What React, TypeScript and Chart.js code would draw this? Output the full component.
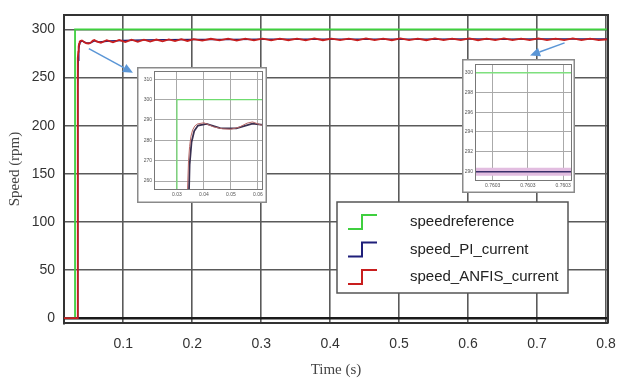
import React, { useEffect, useRef } from "react";
import { Chart, registerables } from "chart.js";
Chart.register(...registerables);

// ---------- data ----------
const timeRef = [0.014, 0.03, 0.03, 0.803];
const speedRef = [0, 0, 300, 300];

const timeAnfis = [
  0.014, 0.0334, 0.0337, 0.0339, 0.0343, 0.0347, 0.0352, 0.0358, 0.0366, 0.0376, 0.04, 0.0435, 0.047, 0.05, 0.053, 0.056, 0.058, 0.061,
  0.0675, 0.076, 0.085, 0.094, 0.103, 0.112, 0.121, 0.13, 0.139, 0.148, 0.157, 0.166, 0.175, 0.184, 0.193, 0.202,
  0.2145, 0.227, 0.2395, 0.252, 0.2645, 0.277, 0.2895, 0.302, 0.3145, 0.327, 0.3395, 0.352, 0.3645, 0.377, 0.3895, 0.402,
  0.4145, 0.427, 0.4395, 0.452, 0.4645, 0.477, 0.4895, 0.502, 0.5145, 0.527, 0.5395, 0.552, 0.5645, 0.577, 0.5895, 0.602,
  0.6145, 0.627, 0.6395, 0.652, 0.6645, 0.677, 0.6895, 0.702, 0.7145, 0.727, 0.7395, 0.752, 0.7645, 0.777, 0.7895, 0.803,
];
const speedAnfis = [
  0, 0, 150, 255, 270, 277, 282, 285, 287, 288, 288.6, 286.6, 285.6, 285.4, 286.4, 288.4, 289, 287.6,
  286.2, 288.9, 286.6, 289.1, 286.9, 289.3, 287.1, 289.4, 287.4, 289.5, 287.6, 289.7, 287.8, 289.8, 288.0, 289.9,
  288.4, 290.3, 288.6, 290.4, 288.5, 290.5, 288.7, 290.4, 288.6, 290.5, 288.8, 290.4, 288.7, 290.6, 288.8, 290.5,
  288.9, 290.5, 288.7, 290.6, 288.9, 290.4, 288.8, 290.6, 288.9, 290.5, 288.8, 290.6, 289.0, 290.5, 288.9, 290.6,
  288.8, 290.5, 289.0, 290.6, 288.9, 290.5, 289.0, 290.6, 288.9, 290.5, 289.0, 290.6, 288.9, 290.5, 289.0, 289.8,
];

const timePI = [
  0.014, 0.0336, 0.0339, 0.0342, 0.0347, 0.0354, 0.0364, 0.0378, 0.041, 0.046, 0.052, 0.058, 0.065, 0.08, 0.1,
  0.13, 0.16, 0.2, 0.25, 0.3, 0.35, 0.4, 0.45, 0.5, 0.55, 0.6, 0.65, 0.7, 0.75, 0.803,
];
const speedPI = [
  0, 0, 140, 240, 268, 279, 284.5, 287.2, 288, 286, 285.8, 288.2, 287, 288, 288.6,
  289, 289.3, 289.5, 289.6, 289.7, 289.8, 289.8, 289.9, 289.9, 289.9, 290, 289.9, 290, 289.95, 290,
];

const xTicks = [0.1, 0.2, 0.3, 0.4, 0.5, 0.6, 0.7, 0.8];
const yTicks = [0, 50, 100, 150, 200, 250, 300];
const legendLabels = ["speedreference", "speed_PI_current", "speed_ANFIS_current"];

const inset1XTicks = [0.03, 0.04, 0.05, 0.06];
const inset1YTicks = [260, 270, 280, 290, 300, 310];

const inset2Time = [0.76027, 0.760325];
const inset2Ref = [300, 300];
const inset2PI = [289.95, 289.95];
const inset2Anfis = [289.95, 289.95];
const inset2XTicks = [0.76028, 0.7603, 0.76032];
const inset2YTicks = [290, 292, 294, 296, 298, 300];

// annotation arrows (data coordinates)
const arrow1 = [0.05, 280, 0.114, 255];
const arrow2 = [0.74, 286, 0.69, 273];

// ---------- styles ----------
const refColor = "#3fcf3f";
const piColor = "#1f1f7a";
const anfisColor = "#c81e1e";
const SANS = '"Liberation Sans", Arial, sans-serif';
const SERIF = '"Liberation Serif", "Times New Roman", serif';

const zip = (xs: number[], ys: number[]) => xs.map((x, i) => ({ x, y: ys[i] }));

const mainPlugin = {
  id: "mainOverlay",
  afterDraw(chart: any) {
    const ctx = chart.ctx as CanvasRenderingContext2D;
    const { left, top, right, bottom } = chart.chartArea;
    const sx = chart.scales.x;
    const sy = chart.scales.y;
    ctx.save();
    ctx.strokeStyle = "#333";
    ctx.lineWidth = 2;
    ctx.beginPath();
    ctx.moveTo(left, top);
    ctx.lineTo(right, top);
    ctx.lineTo(right, bottom);
    ctx.stroke();

    const drawArrow = (a: number[]) => {
      const x1 = sx.getPixelForValue(a[0]);
      const y1 = sy.getPixelForValue(a[1]);
      const x2 = sx.getPixelForValue(a[2]);
      const y2 = sy.getPixelForValue(a[3]);
      const ang = Math.atan2(y2 - y1, x2 - x1);
      const L = 10;
      const W = 4.5;
      ctx.strokeStyle = "#5b96d6";
      ctx.fillStyle = "#5b96d6";
      ctx.lineWidth = 1.5;
      ctx.beginPath();
      ctx.moveTo(x1, y1);
      ctx.lineTo(x2 - L * Math.cos(ang), y2 - L * Math.sin(ang));
      ctx.stroke();
      ctx.beginPath();
      ctx.moveTo(x2, y2);
      ctx.lineTo(x2 - L * Math.cos(ang) + W * Math.sin(ang), y2 - L * Math.sin(ang) - W * Math.cos(ang));
      ctx.lineTo(x2 - L * Math.cos(ang) - W * Math.sin(ang), y2 - L * Math.sin(ang) + W * Math.cos(ang));
      ctx.closePath();
      ctx.fill();
    };
    drawArrow(arrow1);
    drawArrow(arrow2);

    const bx = 337, by = 202, bw = 231, bh = 91;
    ctx.fillStyle = "#fff";
    ctx.fillRect(bx, by, bw, bh);
    ctx.strokeStyle = "#555";
    ctx.lineWidth = 1.5;
    ctx.strokeRect(bx, by, bw, bh);
    const colors = [refColor, piColor, anfisColor];
    ctx.font = `15px ${SANS}`;
    ctx.textBaseline = "middle";
    ctx.textAlign = "left";
    legendLabels.forEach((lab, i) => {
      const cy = 222 + i * 27.5;
      ctx.strokeStyle = colors[i];
      ctx.lineWidth = 2;
      ctx.beginPath();
      ctx.moveTo(348, cy + 7);
      ctx.lineTo(362, cy + 7);
      ctx.lineTo(362, cy - 7);
      ctx.lineTo(377, cy - 7);
      ctx.stroke();
      ctx.fillStyle = "#222";
      ctx.fillText(lab, 410, cy);
    });
    ctx.restore();
  },
};

const insetPlugin = {
  id: "insetFrame",
  beforeDraw(chart: any) {
    const ctx = chart.ctx as CanvasRenderingContext2D;
    ctx.save();
    ctx.fillStyle = "#fff";
    ctx.fillRect(0, 0, chart.width, chart.height);
    ctx.restore();
  },
  afterDraw(chart: any) {
    const ctx = chart.ctx as CanvasRenderingContext2D;
    const { left, top, right, bottom } = chart.chartArea;
    ctx.save();
    ctx.strokeStyle = "#777";
    ctx.lineWidth = 1;
    ctx.strokeRect(left + 0.5, top + 0.5, right - left - 1, bottom - top - 1);
    ctx.strokeStyle = "#8a8a8a";
    ctx.lineWidth = 1.5;
    ctx.strokeRect(0.75, 0.75, chart.width - 1.5, chart.height - 1.5);
    ctx.restore();
  },
};

function insetOptions(
  xMin: number, xMax: number, yMin: number, yMax: number,
  xt: number[], yt: number[], xFmt: (v: number) => string,
  yW: number, xH: number, padR: number, padT: number
): any {
  return {
    responsive: false,
    animation: false,
    layout: { padding: { left: 0, right: padR, top: padT, bottom: 0 } },
    plugins: { legend: { display: false }, tooltip: { enabled: false } },
    elements: { point: { radius: 0 }, line: { tension: 0 } },
    scales: {
      x: {
        type: "linear", min: xMin, max: xMax,
        afterBuildTicks: (s: any) => { s.ticks = xt.map((v) => ({ value: v })); },
        afterFit: (s: any) => { s.height = xH; s.paddingLeft = 0; s.paddingRight = 0; },
        ticks: { font: { size: 5, family: SANS }, color: "#555", padding: 2, maxRotation: 0, autoSkip: false, callback: (v: any) => xFmt(Number(v)) },
        grid: { color: "#aaa", lineWidth: 1, drawTicks: false },
        border: { display: false },
      },
      y: {
        type: "linear", min: yMin, max: yMax,
        afterBuildTicks: (s: any) => { s.ticks = yt.map((v) => ({ value: v })); },
        afterFit: (s: any) => { s.width = yW; s.paddingTop = 0; s.paddingBottom = 0; },
        ticks: { font: { size: 5, family: SANS }, color: "#555", padding: 2, autoSkip: false, callback: (v: any) => String(v) },
        grid: { color: "#aaa", lineWidth: 1, drawTicks: false },
        border: { display: false },
      },
    },
  };
}

export default function App() {
  const mainRef = useRef<HTMLCanvasElement>(null);
  const in1Ref = useRef<HTMLCanvasElement>(null);
  const in2Ref = useRef<HTMLCanvasElement>(null);

  useEffect(() => {
    const charts: Chart[] = [];

    charts.push(
      new Chart(mainRef.current!, {
        type: "line",
        data: {
          datasets: [
            { label: legendLabels[0], data: zip(timeRef, speedRef), borderColor: refColor, borderWidth: 1.8, order: 2 },
            { label: legendLabels[1], data: zip(timePI, speedPI), borderColor: piColor, borderWidth: 1.5, order: 1 },
            { label: legendLabels[2], data: zip(timeAnfis, speedAnfis), borderColor: anfisColor, borderWidth: 1.8, order: 0 },
          ],
        },
        options: {
          responsive: false,
          animation: false,
          layout: { padding: { left: 0, right: 9, top: 15, bottom: 0 } },
          plugins: { legend: { display: false }, tooltip: { enabled: false } },
          elements: { point: { radius: 0 }, line: { tension: 0 } },
          scales: {
            x: {
              type: "linear", min: 0.014, max: 0.803,
              afterBuildTicks: (s: any) => { s.ticks = xTicks.map((v) => ({ value: v })); },
              afterFit: (s: any) => { s.height = 58; s.paddingLeft = 0; s.paddingRight = 0; },
              ticks: { font: { size: 14, family: SANS }, color: "#333", padding: 13, maxRotation: 0, autoSkip: false, callback: (v: any) => String(v) },
              grid: { color: "#5a5a5a", lineWidth: 1.6, drawTicks: false },
              border: { display: true, color: "#333", width: 2 },
              title: { display: true, text: "Time (s)", font: { size: 15, family: SERIF }, color: "#444", padding: { top: 0, bottom: 2 } },
            },
            y: {
              type: "linear", min: -5, max: 315,
              afterBuildTicks: (s: any) => { s.ticks = yTicks.map((v) => ({ value: v })); },
              afterFit: (s: any) => { s.width = 64; s.paddingTop = 0; s.paddingBottom = 0; },
              ticks: { font: { size: 14, family: SANS }, color: "#333", padding: 9, autoSkip: false, callback: (v: any) => String(v) },
              grid: {
                color: (c: any) => (c.tick && c.tick.value === 0 ? "#1a1a1a" : "#5a5a5a"),
                lineWidth: (c: any) => (c.tick && c.tick.value === 0 ? 2.4 : 1.6),
                drawTicks: false,
              },
              border: { display: true, color: "#333", width: 2 },
              title: { display: true, text: "Speed (rpm)", font: { size: 15, family: SERIF }, color: "#444", padding: { top: 6, bottom: 0 } },
            },
          },
        } as any,
        plugins: [mainPlugin],
      })
    );

    charts.push(
      new Chart(in1Ref.current!, {
        type: "line",
        data: {
          datasets: [
            { data: zip(timeRef, speedRef), borderColor: "#6fdc6f", borderWidth: 1.2, order: 2 },
            { data: zip(timePI, speedPI), borderColor: "#3a3050", borderWidth: 1.8, order: 1 },
            { data: zip(timeAnfis, speedAnfis), borderColor: "#b86868", borderWidth: 1, order: 0 },
          ],
        },
        options: insetOptions(0.0215, 0.0619, 255.6, 314, inset1XTicks, inset1YTicks, (v) => v.toFixed(2), 17, 13, 4, 4),
        plugins: [insetPlugin],
      })
    );

    charts.push(
      new Chart(in2Ref.current!, {
        type: "line",
        data: {
          datasets: [
            { data: zip(inset2Time, inset2Ref), borderColor: "#7ee07e", borderWidth: 1.5, order: 2 },
            { data: zip(inset2Time, inset2Anfis), borderColor: "#e2bde0", borderWidth: 8, order: 1 },
            { data: zip(inset2Time, inset2PI), borderColor: "#3a2f6a", borderWidth: 1.5, order: 0 },
          ],
        },
        options: insetOptions(0.76027, 0.760325, 289, 300.9, inset2XTicks, inset2YTicks, (v) => v.toFixed(4), 13, 12, 3, 5),
        plugins: [insetPlugin],
      })
    );

    return () => charts.forEach((c) => c.destroy());
  }, []);

  return (
    <div style={{ position: "absolute", left: 0, top: 0, width: 617, height: 381, background: "#fff", overflow: "hidden" }}>
      <canvas ref={mainRef} width={617} height={381} style={{ position: "absolute", left: 0, top: 0 }} />
      <canvas ref={in1Ref} width={130} height={136} style={{ position: "absolute", left: 137, top: 67 }} />
      <canvas ref={in2Ref} width={113} height={134} style={{ position: "absolute", left: 462, top: 59 }} />
    </div>
  );
}
